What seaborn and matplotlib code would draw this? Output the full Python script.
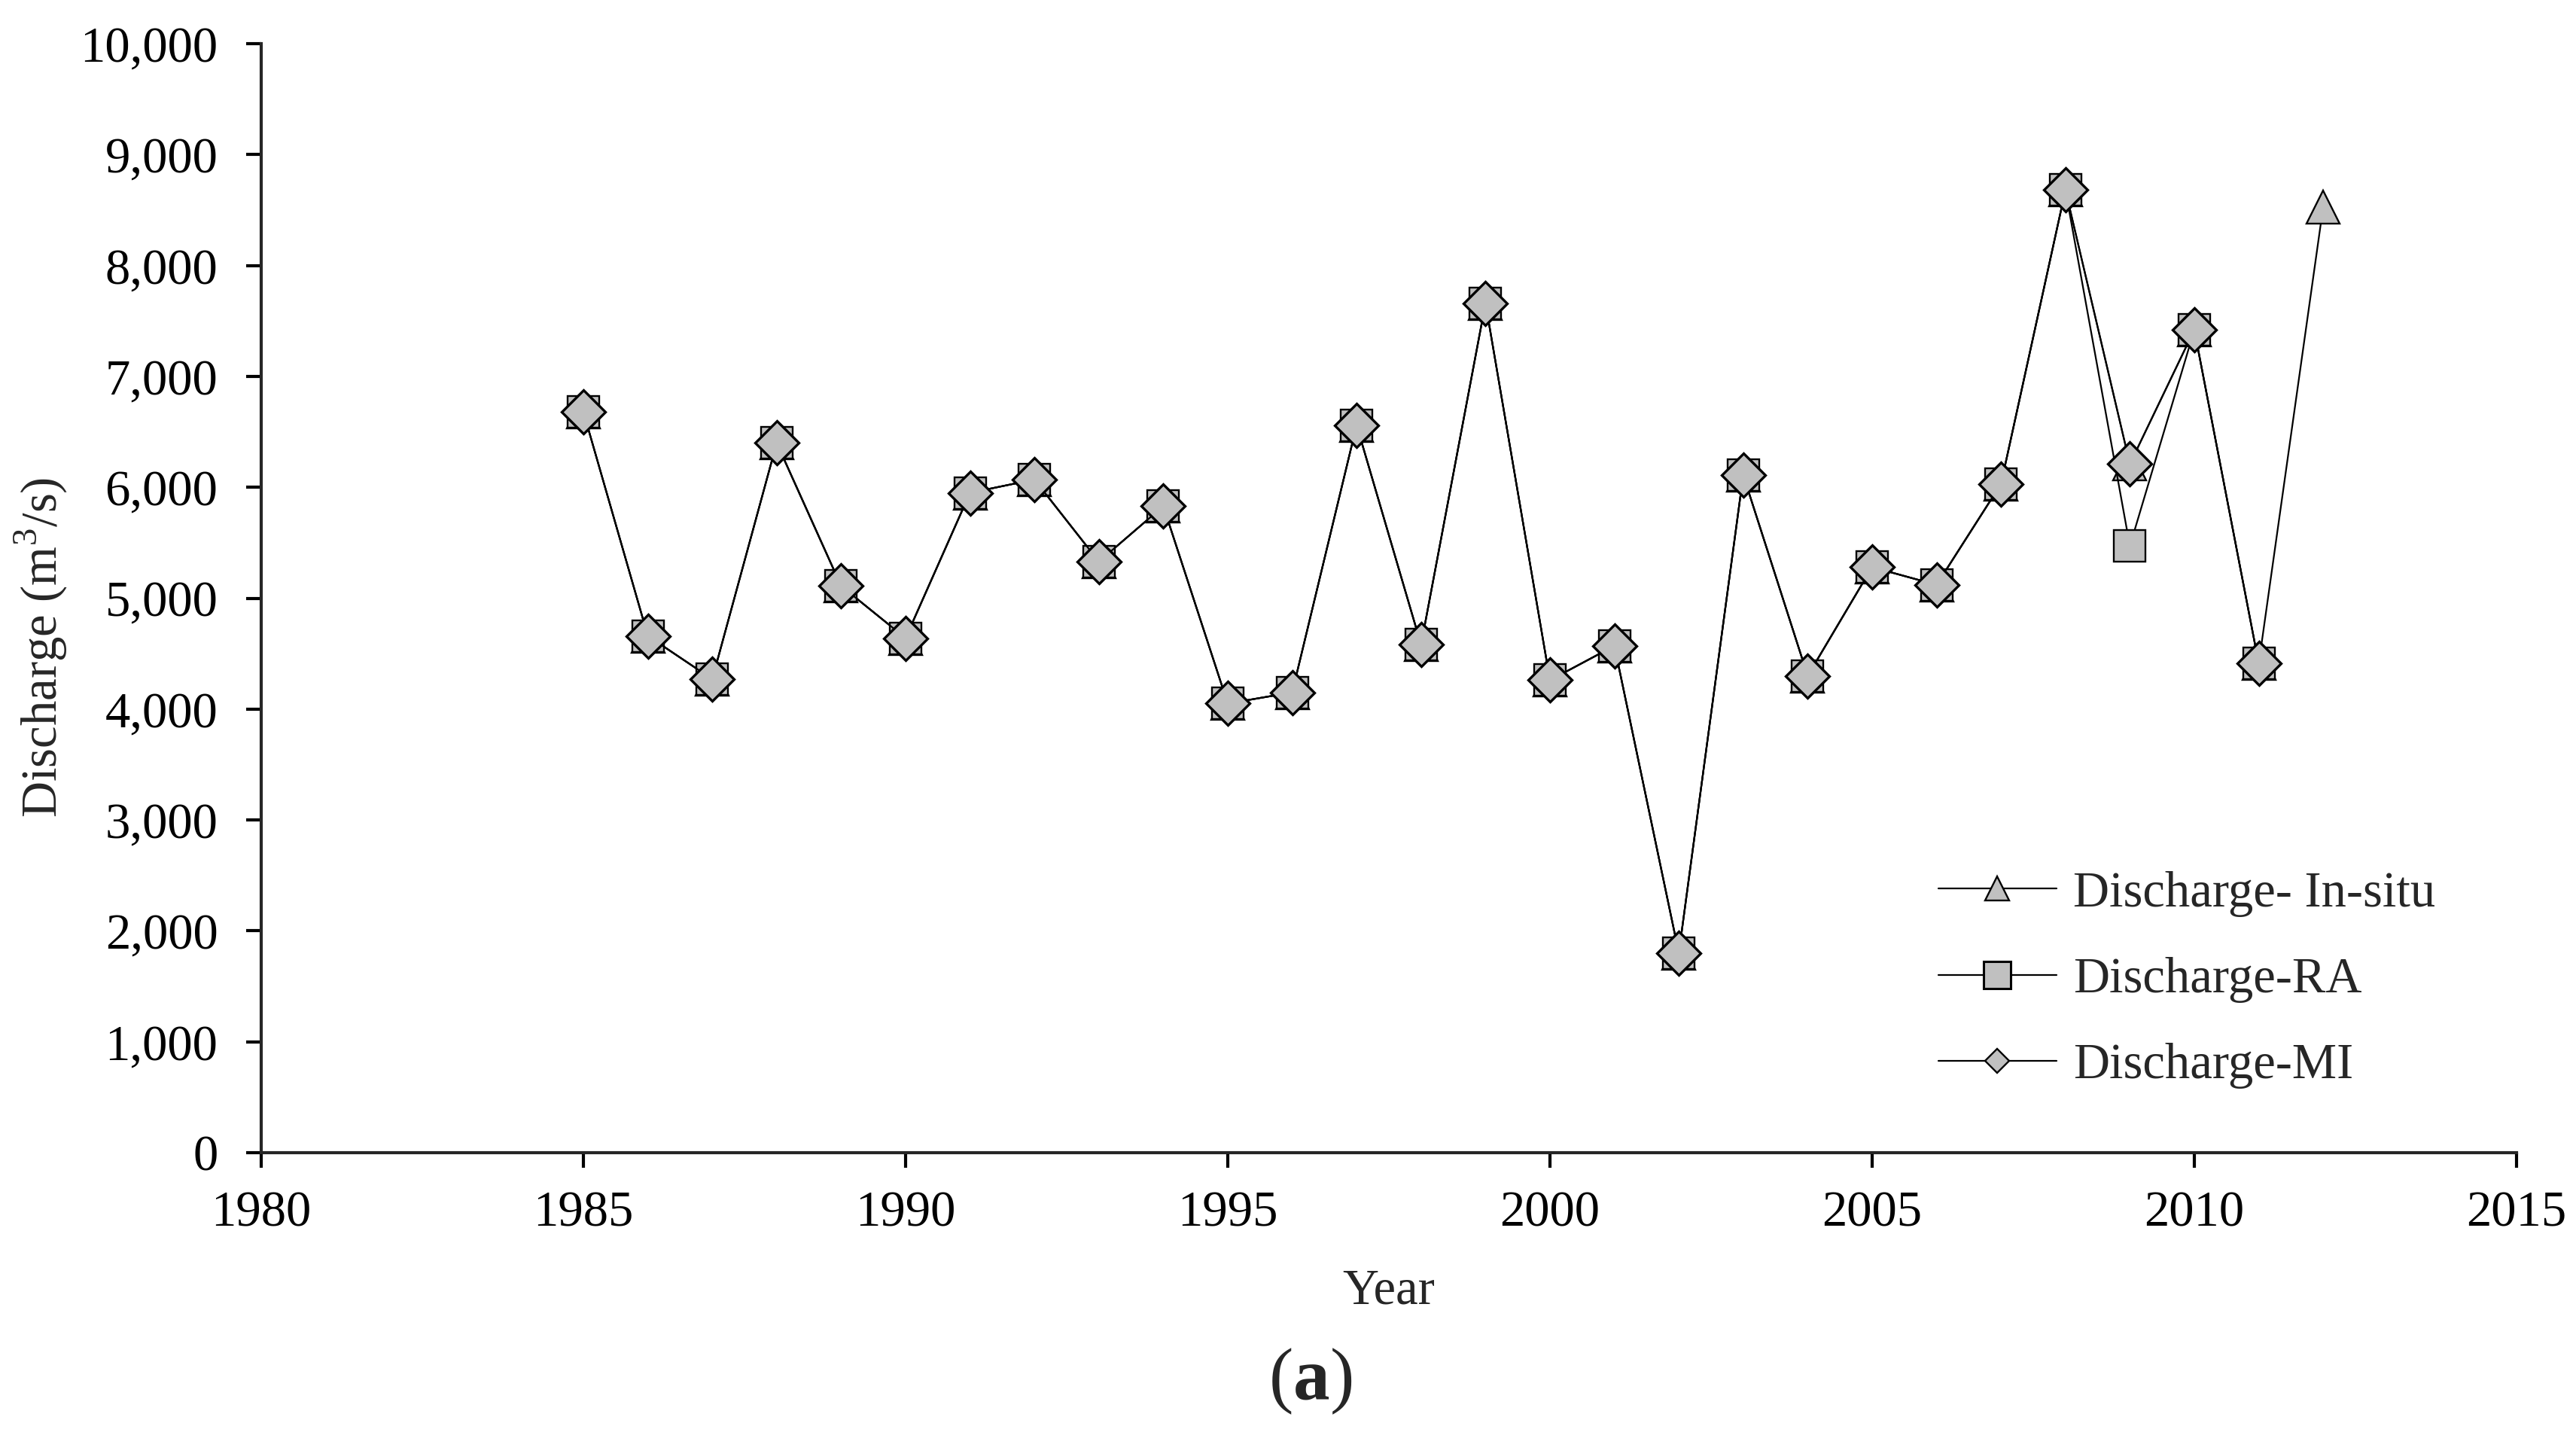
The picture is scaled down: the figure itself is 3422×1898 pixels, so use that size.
import matplotlib
matplotlib.use("Agg")
import matplotlib.pyplot as plt
import seaborn as sns
from matplotlib.ticker import FuncFormatter, MultipleLocator

# Annual discharge (m3/s)
years_insitu = [1985, 1986, 1987, 1988, 1989, 1990, 1991, 1992, 1993, 1994,
                1995, 1996, 1997, 1998, 1999, 2000, 2001, 2002, 2003, 2004,
                2005, 2006, 2007, 2008, 2009, 2010, 2011, 2012]
q_insitu = [6680, 4660, 4270, 6400, 5110, 4640, 5950, 6070, 5330, 5830,
            4050, 4150, 6560, 4580, 7660, 4260, 4570, 1800, 6110, 4300,
            5280, 5120, 6030, 8680, 6210, 7420, 4410, 8530]

years_model = [1985, 1986, 1987, 1988, 1989, 1990, 1991, 1992, 1993, 1994,
               1995, 1996, 1997, 1998, 1999, 2000, 2001, 2002, 2003, 2004,
               2005, 2006, 2007, 2008, 2009, 2010, 2011]
q_ra = [6680, 4660, 4270, 6400, 5110, 4640, 5950, 6070, 5330, 5830,
        4050, 4150, 6560, 4580, 7660, 4260, 4570, 1800, 6110, 4300,
        5280, 5120, 6030, 8680, 5470, 7420, 4410]
q_mi = [6680, 4660, 4270, 6400, 5110, 4640, 5950, 6070, 5330, 5830,
        4050, 4150, 6560, 4580, 7660, 4260, 4570, 1800, 6110, 4300,
        5280, 5120, 6030, 8680, 6210, 7420, 4410]

labels = ["Discharge- In-situ", "Discharge-RA", "Discharge-MI"]

GREY = "#c0c0c0"
FS = 48


def main():
    sns.set_style("ticks")
    plt.rcParams["font.family"] = ["Liberation Serif", "DejaVu Serif"]
    plt.rcParams["mathtext.fontset"] = "custom"
    plt.rcParams["mathtext.rm"] = "Liberation Serif"
    plt.rcParams["mathtext.bf"] = "Liberation Serif:bold"

    fig = plt.figure(figsize=(34.22, 18.98), dpi=100)
    ax = fig.add_axes([0.1014, 0.1934, 0.8755, 0.776])

    common = dict(color="black", linewidth=1.6, markerfacecolor=GREY,
                  markeredgecolor="black", errorbar=None, sort=False, ax=ax)
    sns.lineplot(x=years_insitu, y=q_insitu, marker="^", markersize=31,
                 markeredgewidth=1.7, label=labels[0], **common)
    sns.lineplot(x=years_model, y=q_ra, marker="s", markersize=30,
                 markeredgewidth=1.7, label=labels[1], **common)
    sns.lineplot(x=years_model, y=q_mi, marker="D", markersize=29.5,
                 markeredgewidth=2.4, label=labels[2], **common)

    ax.set_xlim(1980, 2015)
    ax.set_ylim(0, 10000)
    ax.xaxis.set_major_locator(MultipleLocator(5))
    ax.yaxis.set_major_locator(MultipleLocator(1000))
    ax.yaxis.set_major_formatter(FuncFormatter(lambda v, p: f"{v:,.0f}"))

    sns.despine(ax=ax)
    for s in ["left", "bottom"]:
        ax.spines[s].set_linewidth(3)
    ax.tick_params(axis="both", direction="out", length=14.4, width=3,
                   labelsize=FS, colors="black")
    ax.tick_params(axis="y", pad=27)
    ax.tick_params(axis="x", pad=22)

    ax.set_xlabel("Year", fontsize=FS, labelpad=30)
    ax.set_ylabel("Discharge (m$^3$/s)", fontsize=FS)
    ax.yaxis.set_label_coords(-0.0851, 0.4555)

    handles, labs = ax.get_legend_handles_labels()
    leg = ax.legend(handles, labs, loc="upper left",
                    bbox_to_anchor=(0.7525, 0.3905),
                    bbox_transform=fig.transFigure, frameon=False,
                    fontsize=FS, handlelength=2.35, handletextpad=0.33,
                    labelspacing=0.8, borderpad=0, borderaxespad=0)
    for h, ms, mew in zip(leg.legend_handles, [23, 26, 16.5], [1.7, 2.2, 1.7]):
        h.set_markersize(ms)
        h.set_markeredgewidth(mew)

    fig.text(0.5085, 0.0332, "($\\mathbf{a}$)", fontsize=70,
             ha="center", va="center")

    fig.savefig("out.png", dpi=100, facecolor="white")
    plt.close(fig)


if __name__ == "__main__":
    main()
